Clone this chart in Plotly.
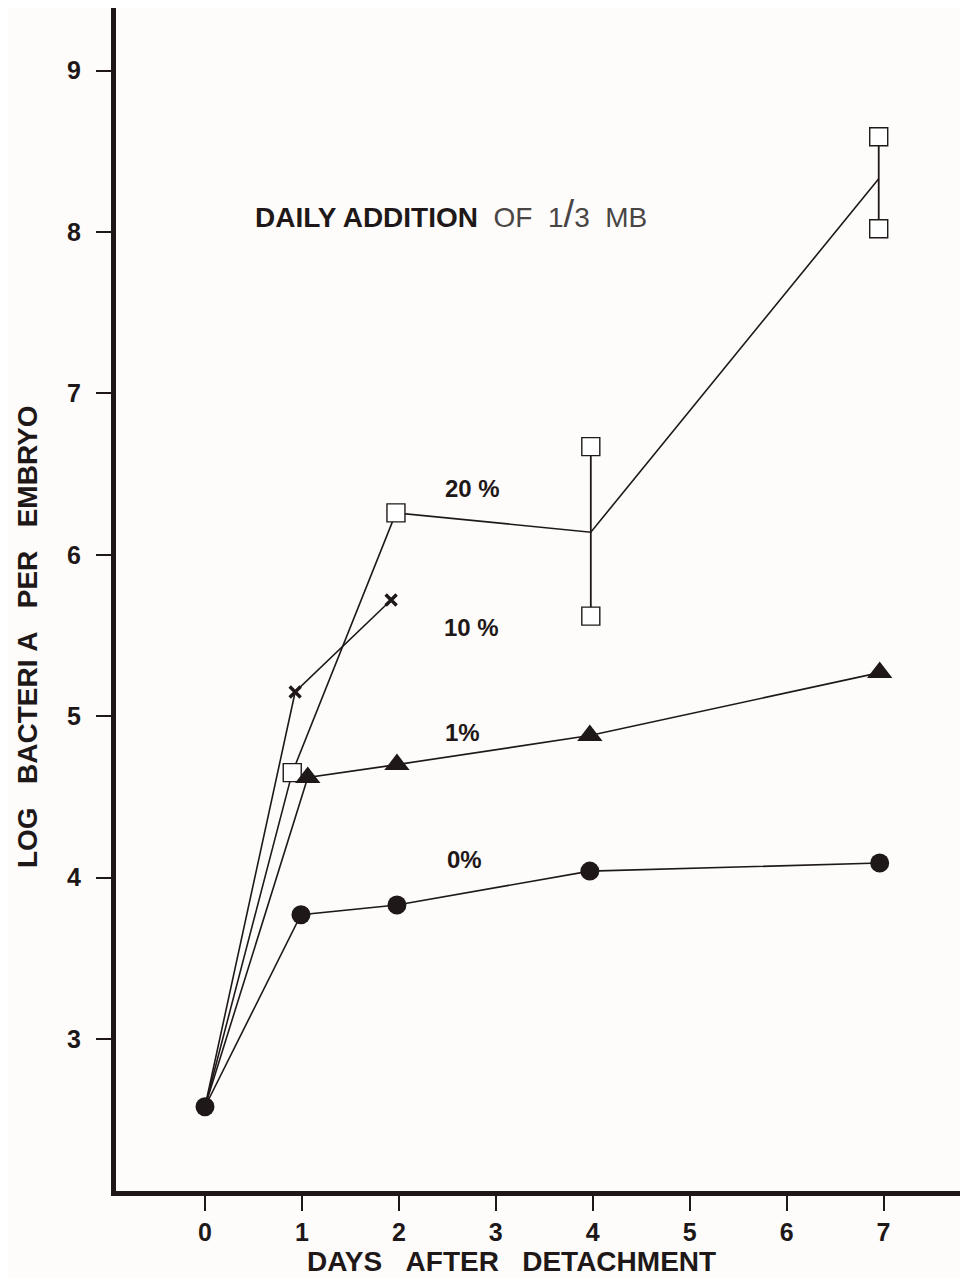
import plotly.graph_objects as go

# ---- data ----
days_0 = [0, 0.99, 1.98, 3.97, 6.96]
log_0 = [2.58, 3.77, 3.83, 4.04, 4.09]

days_1 = [0, 1.06, 1.98, 3.97, 6.96]
log_1 = [2.58, 4.62, 4.70, 4.88, 5.27]

days_10 = [0, 0.93, 1.92]
log_10 = [2.58, 5.15, 5.72]

days_20 = [0, 0.90, 1.97, 3.98, 6.95]
log_20 = [2.58, 4.65, 6.26, 6.14, 8.33]
log_20_hi = [None, None, None, 6.67, 8.59]
log_20_lo = [None, None, None, 5.62, 8.02]

x_ticks = [0, 1, 2, 3, 4, 5, 6, 7]
y_ticks = [3, 4, 5, 6, 7, 8, 9]

series_labels = ["20 %", "10 %", "1%", "0%"]
label_x = [2.76, 2.75, 2.66, 2.68]
label_y = [6.41, 5.55, 4.90, 4.11]

INK = "#1f1818"
FONT = "Liberation Sans, Arial, sans-serif"
NB = "\u00a0"

fig = go.Figure()

# 20% with range bars
err_plus = [(h - m) if h is not None else 0 for h, m in zip(log_20_hi, log_20)]
err_minus = [(m - l) if l is not None else 0 for l, m in zip(log_20_lo, log_20)]
sq_sizes = [0 if (i == 0 or log_20_hi[i] is not None) else 18 for i in range(len(days_20))]
fig.add_trace(go.Scatter(
    x=days_20, y=log_20, mode="lines+markers",
    line=dict(color=INK, width=1.6),
    marker=dict(symbol="square", size=sq_sizes, color="white", opacity=1,
                line=dict(color=INK, width=1.4)),
    error_y=dict(type="data", symmetric=False, array=err_plus, arrayminus=err_minus,
                 width=0, thickness=1.8, color=INK),
    showlegend=False, hoverinfo="skip"))
rx, ry = [], []
for x, h, l in zip(days_20, log_20_hi, log_20_lo):
    if h is not None:
        rx += [x, x]
        ry += [h, l]
fig.add_trace(go.Scatter(
    x=rx, y=ry, mode="markers",
    marker=dict(symbol="square", size=18, color="white", opacity=1,
                line=dict(color=INK, width=1.4)),
    showlegend=False, hoverinfo="skip"))

# 10%
fig.add_trace(go.Scatter(
    x=days_10, y=log_10, mode="lines+markers",
    line=dict(color=INK, width=1.6),
    marker=dict(symbol="x-thin", size=[0] + [11] * (len(days_10) - 1), color=INK, opacity=1,
                line=dict(color=INK, width=3.4)),
    showlegend=False, hoverinfo="skip"))

# 1%
fig.add_trace(go.Scatter(
    x=days_1, y=log_1, mode="lines+markers",
    line=dict(color=INK, width=1.6),
    marker=dict(symbol="triangle-up", size=[0] + [22] * (len(days_1) - 1), color=INK,
                opacity=1, line=dict(width=0)),
    showlegend=False, hoverinfo="skip"))

# 0%
fig.add_trace(go.Scatter(
    x=days_0, y=log_0, mode="lines+markers",
    line=dict(color=INK, width=1.6),
    marker=dict(symbol="circle", size=19, color=INK, opacity=1, line=dict(width=0)),
    showlegend=False, hoverinfo="skip"))

annotations = []
for t, x, y in zip(series_labels, label_x, label_y):
    annotations.append(dict(x=x, y=y, text=t, showarrow=False,
                            font=dict(family=FONT, size=24, color=INK, weight="bold")))
annotations.append(dict(
    x=0.495, y=8.11, xanchor="left", showarrow=False,
    text="<b>DAILY ADDITION</b>" + NB * 2 +
         "<span style='color:#4a4545;font-size:28px'>OF" + NB * 2 +
         "1<span style='font-size:38px'>/</span>3" + NB * 2 + "MB</span>",
    font=dict(family=FONT, size=28, color=INK)))
# axis titles
annotations.append(dict(
    xref="paper", yref="paper", x=0.4664, y=-0.060, xanchor="center", yanchor="middle",
    showarrow=False, text=("DAYS" + NB * 3 + "AFTER" + NB * 3 + "DETACHMENT"),
    font=dict(family=FONT, size=28, color=INK, weight="bold")))
annotations.append(dict(
    xref="paper", yref="paper", x=-0.1048, y=0.4683, xanchor="center", yanchor="middle",
    textangle=-90, showarrow=False,
    text=("LOG" + NB * 3 + "BACTERI" + NB + "A" + NB * 3 + "PER" + NB * 3 + "EMBRYO"),
    font=dict(family=FONT, size=28, color=INK, weight="bold")))

fig.update_layout(
    width=968, height=1278,
    margin=dict(l=108, r=11, t=0, b=95),
    paper_bgcolor="#fdfcfa", plot_bgcolor="#fdfcfa",
    font=dict(family=FONT, color=INK),
    annotations=annotations,
    xaxis=dict(range=[-0.918, 7.84], tickvals=x_ticks, ticktext=[str(v) for v in x_ticks],
               showgrid=False, zeroline=False, showline=True, linewidth=5, linecolor=INK,
               ticks="outside", ticklen=15, tickwidth=2, tickcolor=INK,
               tickfont=dict(size=25, family=FONT, color=INK, weight="bold")),
    yaxis=dict(range=[2.058, 9.388], tickvals=y_ticks, ticktext=[str(v) for v in y_ticks],
               showgrid=False, zeroline=False, showline=True, linewidth=5, linecolor=INK,
               ticks="outside", ticklen=15, tickwidth=2, tickcolor=INK, ticklabelstandoff=10,
               tickfont=dict(size=25, family=FONT, color=INK, weight="bold")),
)

fig.write_html("out.html")
